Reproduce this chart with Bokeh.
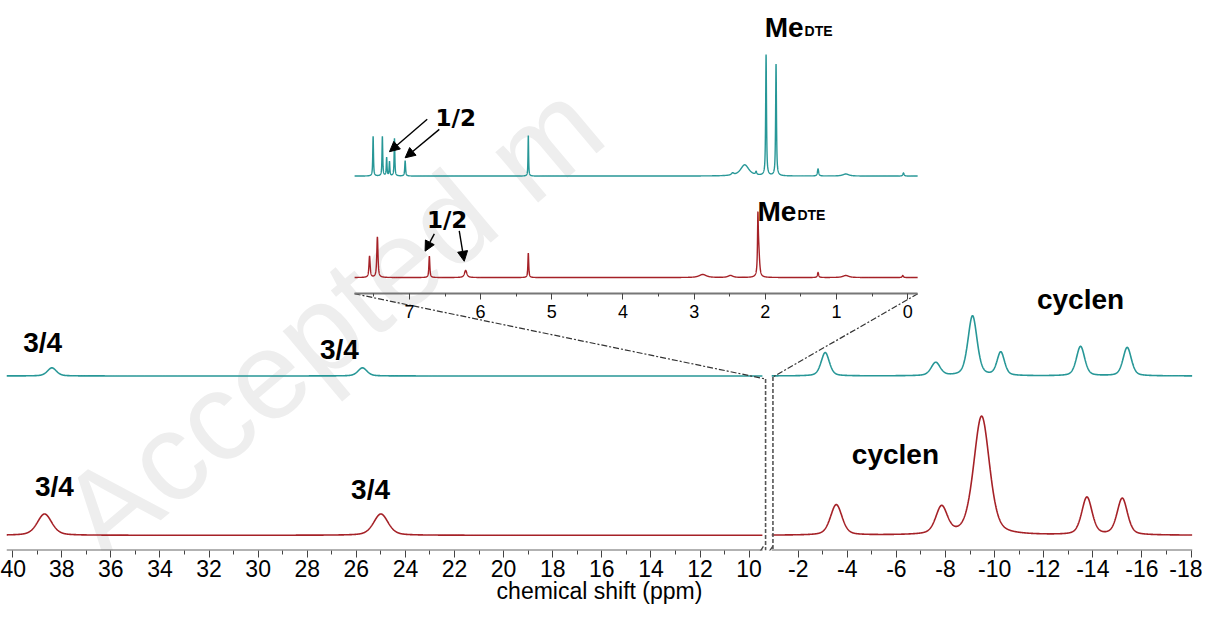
import numpy as np
from bokeh.plotting import figure
from bokeh.models import (Range1d, LinearAxis, FixedTicker, Label, Arrow, NormalHead)
from bokeh.embed import file_html
from bokeh.resources import INLINE

# ---------------- data ----------------
# main spectra: peak centres (ppm), heights (a.u.), half widths (ppm)
teal_main_ppm = [38.4, 25.75, -3.1, -7.6, -9.1, -10.25, -13.5, -15.4]
teal_main_height = [8, 8, 23, 13, 59, 23, 29, 28]
teal_main_hwhm = [0.22, 0.22, 0.2, 0.22, 0.22, 0.18, 0.2, 0.2]

red_main_ppm = [38.7, 25.0, -3.55, -7.84, -9.47, -13.76, -15.2]
red_main_height = [21, 21, 30, 27, 117, 37, 36]
red_main_hwhm = [0.35, 0.35, 0.28, 0.28, 0.38, 0.25, 0.25]

# inset (diamagnetic region)
teal_inset_ppm = [7.51, 7.38, 7.32, 7.28, 7.21, 7.06, 5.33, 2.46, 2.29, 2.13, 1.99, 1.85, 1.26, 0.87, 0.06]
teal_inset_height = [39, 39, 18, 14, 37, 15, 40, 2, 11, 3, 119, 110, 7, 2, 3]
teal_inset_hwhm = [0.006, 0.006, 0.006, 0.006, 0.006, 0.007, 0.005, 0.02, 0.07, 0.01, 0.007, 0.007, 0.01, 0.05, 0.01]

red_inset_ppm = [7.56, 7.45, 6.72, 6.21, 5.33, 2.88, 2.49, 2.105, 2.095, 1.26, 0.87, 0.07]
red_inset_height = [21, 40, 21, 7, 24, 3, 2, 45, 28, 5, 2, 2]
red_inset_hwhm = [0.01, 0.01, 0.008, 0.02, 0.007, 0.06, 0.04, 0.006, 0.015, 0.01, 0.05, 0.01]

main_ticks_left = [40, 38, 36, 34, 32, 30, 28, 26, 24, 22, 20, 18, 16, 14, 12, 10]
main_ticks_right = [-2, -4, -6, -8, -10, -12, -14, -16, -18]
inset_ticks = [7, 6, 5, 4, 3, 2, 1, 0]

# ---------------- layout constants ----------------
TEAL = "#279797"
RED = "#a52127"
LEFT_SEG = (40.25, 9.45)       # ppm shown left of the break
RIGHT_SEG = (-0.92, -18.06)    # ppm shown right of the break
SHIFT = 10.0                   # axis coordinate = ppm + SHIFT on the right part
INSET_SEG = (7.77, -0.14)
MAIN_RANGE = (40.25, RIGHT_SEG[1] + SHIFT)
INSET_RANGE = (12.66, -4.00)

RED_BASE, TEAL_BASE = 15, 172
RED_INSET_BASE, TEAL_INSET_BASE = 269, 369
INSET_AXIS_Y = 253


def spectrum(x, centres, heights, hwhm, eta):
    y = np.zeros_like(x)
    for c, h, w in zip(centres, heights, hwhm):
        d = (x - c) / w
        y += h * (eta / (1 + d ** 2) + (1 - eta) * np.exp(-np.log(2) * d ** 2))
    return y


def inset_to_main(v):
    return MAIN_RANGE[0] + (v - INSET_RANGE[0]) * (MAIN_RANGE[1] - MAIN_RANGE[0]) / (INSET_RANGE[1] - INSET_RANGE[0])


p = figure(width=1202, height=606, output_backend="svg", toolbar_location=None,
           x_range=Range1d(*MAIN_RANGE), y_range=Range1d(0, 542),
           x_axis_type=None, y_axis_type=None,
           min_border_left=6, min_border_right=10, min_border_top=0, min_border_bottom=50,
           outline_line_color=None)
p.extra_x_ranges = {"inset": Range1d(*INSET_RANGE)}
p.background_fill_color = "white"

# watermark
p.add_layout(Label(x=35.5, y=-35, text="Accepted m", angle=0.70,
                   text_color="#eeeeee", text_font="Liberation Sans",
                   text_font_size="125px", level="underlay"))

axis_style = dict(major_tick_line_color="#444444", minor_tick_line_color="#444444",
                  major_tick_in=0, major_tick_out=7, minor_tick_in=0, minor_tick_out=4,
                  major_label_text_font="Liberation Sans", major_label_text_font_size="23px",
                  major_label_text_color="black", major_label_standoff=2)

right_u = [t + SHIFT for t in main_ticks_right]
axM = LinearAxis(ticker=FixedTicker(ticks=main_ticks_left + right_u,
                                    minor_ticks=[t - 1 for t in main_ticks_left[:-1]]
                                    + [t - 1 for t in right_u[:-1]]),
                 major_label_overrides={u: str(t) for u, t in zip(right_u, main_ticks_right)},
                 axis_label="chemical shift (ppm)", axis_label_standoff=-2,
                 axis_label_text_font="Liberation Sans", axis_label_text_font_size="23px",
                 axis_label_text_font_style="normal", axis_label_text_color="black",
                 axis_line_color=None, **axis_style)
p.add_layout(axM, "below")

inset_style = dict(axis_style)
inset_style.update(major_label_text_font_size="18px", major_tick_out=6, minor_tick_out=3,
                   major_label_standoff=5)
axI = LinearAxis(x_range_name="inset",
                 ticker=FixedTicker(ticks=inset_ticks, minor_ticks=[t + 0.5 for t in inset_ticks]),
                 bounds=(INSET_SEG[1], INSET_SEG[0]), fixed_location=INSET_AXIS_Y,
                 axis_line_color="#777777", axis_line_width=2, **inset_style)
p.add_layout(axI, "below")

# broken axis rule
for xs, xe in [(LEFT_SEG[0], LEFT_SEG[1]), (RIGHT_SEG[0] + SHIFT, RIGHT_SEG[1] + SHIFT)]:
    p.add_layout(Arrow(x_start=xs, y_start=0, x_end=xe, y_end=0, end=None,
                       line_color="#666666", line_width=2))
for xs, xe in [(9.66, 9.42), (9.30, 9.04)]:
    p.add_layout(Arrow(x_start=xs, y_start=-5, x_end=xe, y_end=4, end=None,
                       line_color="#444444", line_width=1.3))

# main spectra
xl = np.arange(LEFT_SEG[0], LEFT_SEG[1], -0.01)
xr = np.arange(RIGHT_SEG[0], RIGHT_SEG[1], -0.01)
for base, c, h, w, col in [(TEAL_BASE, teal_main_ppm, teal_main_height, teal_main_hwhm, TEAL),
                           (RED_BASE, red_main_ppm, red_main_height, red_main_hwhm, RED)]:
    p.line(xl, base + spectrum(xl, c, h, w, 0.4), line_color=col, line_width=1.6)
    p.line(xr + SHIFT, base + spectrum(xr, c, h, w, 0.4), line_color=col, line_width=1.6)

# inset spectra
xi = np.arange(INSET_SEG[0], INSET_SEG[1], -0.001)
p.line(xi, TEAL_INSET_BASE + spectrum(xi, teal_inset_ppm, teal_inset_height, teal_inset_hwhm, 0.8),
       line_color=TEAL, line_width=1.4, x_range_name="inset")
p.line(xi, RED_INSET_BASE + spectrum(xi, red_inset_ppm, red_inset_height, red_inset_hwhm, 0.8),
       line_color=RED, line_width=1.4, x_range_name="inset")

# zoom connectors and break lines
ul, ur = 9.33, 9.03
p.segment(x0=[inset_to_main(INSET_SEG[0]), inset_to_main(INSET_SEG[1])],
          y0=[INSET_AXIS_Y, INSET_AXIS_Y], x1=[ul, ur], y1=[TEAL_BASE - 3, TEAL_BASE - 1],
          line_color="#333333", line_width=1.2, line_dash="6 2 2 2")
p.segment(x0=[ul, ur], y0=[TEAL_BASE - 3, TEAL_BASE - 1], x1=[ul, ur], y1=[0, 0],
          line_color="#555555", line_width=1.6, line_dash="4 2")

# labels
big = dict(text_font="Liberation Sans", text_font_style="bold", text_font_size="28px",
           text_align="center", text_baseline="middle", text_color="black")
for x, y, t in [(38.78, 205, "3/4"), (26.69, 198, "3/4"), (38.3, 63, "3/4"), (25.42, 60, "3/4"),
                (-13.5 + SHIFT, 247, "cyclen"), (-5.96 + SHIFT, 95, "cyclen")]:
    p.add_layout(Label(x=x, y=y, text=t, **big))

half = dict(text_font="DejaVu Sans", text_font_style="bold", text_font_size="23px",
            text_align="center", text_baseline="middle", text_color="black",
            x_range_name="inset")
p.add_layout(Label(x=6.35, y=426, text="1/2", **half))
p.add_layout(Label(x=6.47, y=326, text="1/2", **half))

me = dict(text_font="Liberation Sans", text_font_style="bold", text_color="black",
          text_baseline="alphabetic", text_align="left", x_range_name="inset")
p.add_layout(Label(x=2.01, y=515, text="Me", text_font_size="28px", **me))
p.add_layout(Label(x=1.45, y=512, text="DTE", text_font_size="14px", **me))
p.add_layout(Label(x=2.11, y=334, text="Me", text_font_size="28px", **me))
p.add_layout(Label(x=1.55, y=331, text="DTE", text_font_size="14px", **me))

for xs, ys, xe, ye in [(6.75, 425, 7.28, 393), (6.58, 415, 7.06, 387),
                       (6.65, 312, 6.78, 295), (6.30, 315, 6.23, 285)]:
    p.add_layout(Arrow(x_start=xs, y_start=ys, x_end=xe, y_end=ye, x_range_name="inset",
                       line_color="black", line_width=1.4,
                       end=NormalHead(size=10, fill_color="black", line_color="black")))

open("out.html", "w").write(file_html(p, INLINE))
